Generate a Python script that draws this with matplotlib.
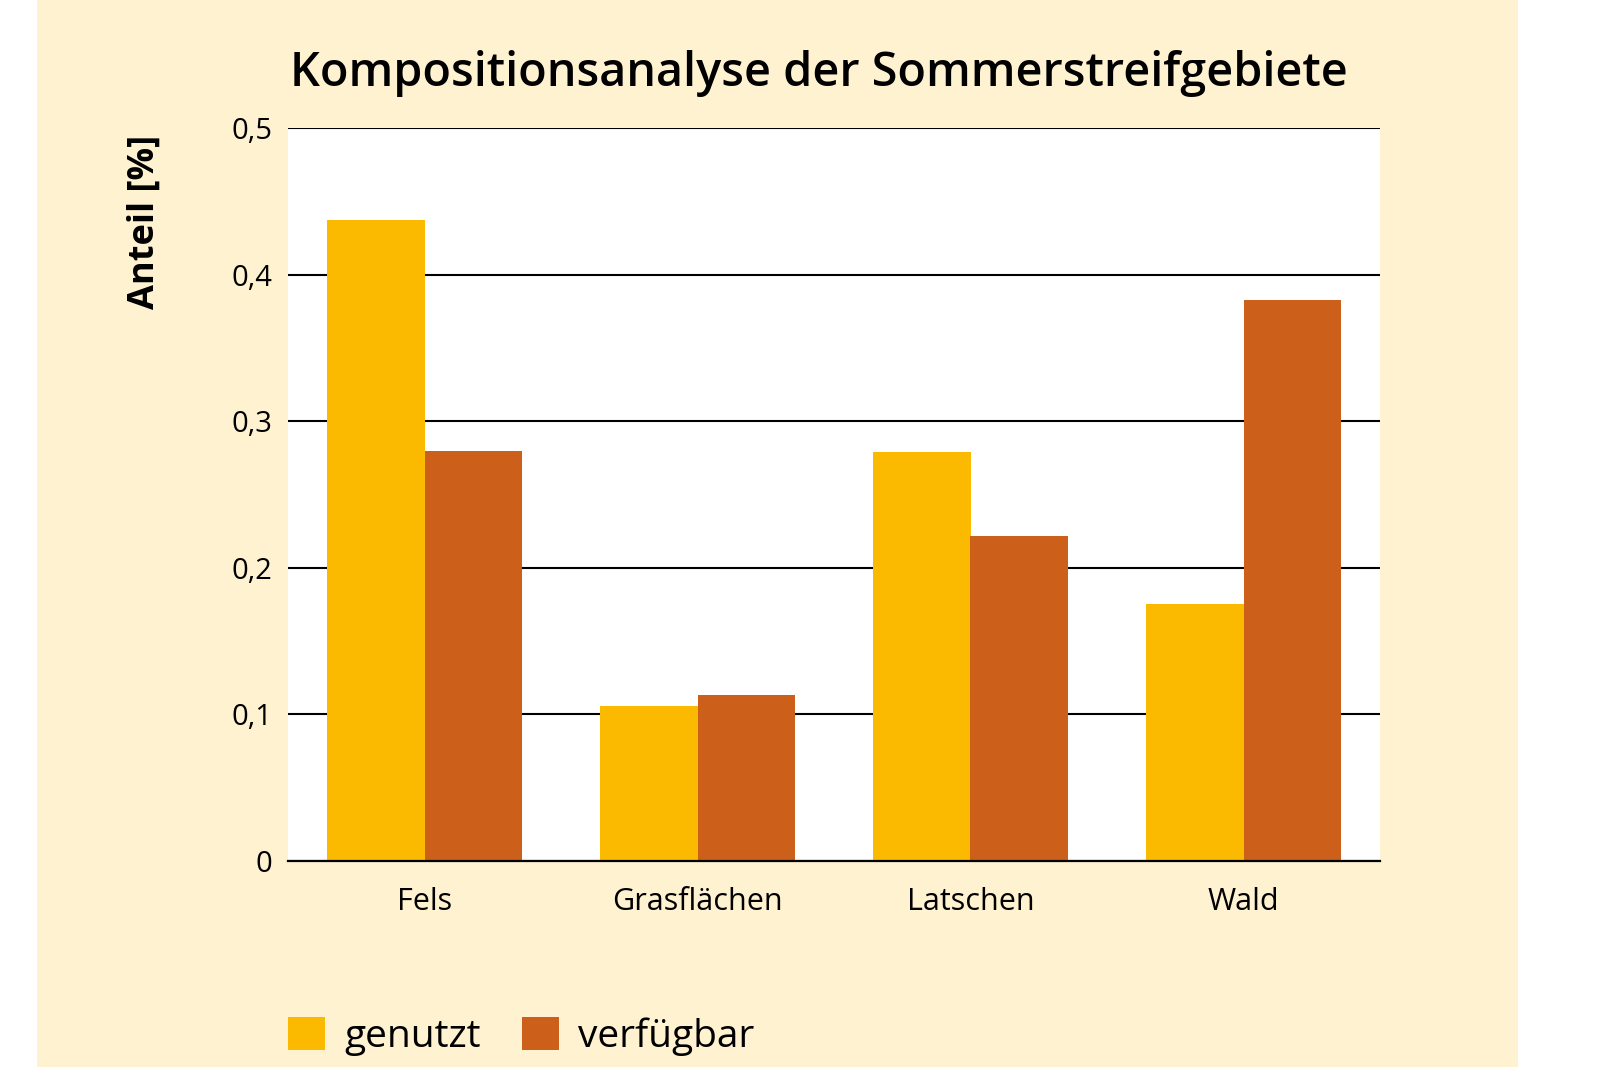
import numpy as np
import matplotlib
matplotlib.use("Agg")
import matplotlib.pyplot as plt
from matplotlib.patches import Rectangle

plt.rcParams['font.family'] = ['Open Sans', 'DejaVu Sans']

kategorien = ["Fels", "Grasflächen", "Latschen", "Wald"]
genutzt = [0.437, 0.106, 0.279, 0.175]
verfuegbar = [0.280, 0.113, 0.222, 0.383]
yticks = [0, 0.1, 0.2, 0.3, 0.4, 0.5]
ytick_labels = ["0", "0,1", "0,2", "0,3", "0,4", "0,5"]

col_gen = "#FBBA00"
col_ver = "#CC601A"
creme = "#FFF2D1"

fig = plt.figure(figsize=(16, 10.67), dpi=100)
fig.patch.set_facecolor("white")
fig.patches.append(Rectangle((37/1600, 0), 1481/1600, 1, transform=fig.transFigure,
                             facecolor=creme, edgecolor="none", zorder=-10))

ax = fig.add_axes([288/1600, 1 - 861/1067, 1092/1600, 733/1067])
ax.set_facecolor("white")

x = np.arange(len(kategorien))
w = 0.358
b1 = ax.bar(x - w/2, genutzt, w, color=col_gen, label="genutzt", zorder=3)
b2 = ax.bar(x + w/2, verfuegbar, w, color=col_ver, label="verfügbar", zorder=3)

ax.set_xlim(-0.5, 3.5)
ax.set_ylim(0, 0.5)
ax.set_yticks(yticks)
ax.set_yticklabels(ytick_labels)
ax.set_xticks(x)
ax.set_xticklabels(kategorien)
ax.yaxis.grid(True, color="black", linewidth=1.5, zorder=1)
ax.set_axisbelow(True)
for s in ["top", "right", "left"]:
    ax.spines[s].set_visible(False)
ax.spines["bottom"].set_linewidth(1.6)
ax.spines["bottom"].set_zorder(4)
ax.tick_params(axis="y", length=0, pad=11, labelsize=21)
ax.tick_params(axis="x", length=0, pad=19, labelsize=22)

fig.text(290/1600, 1 - 86/1067, "Kompositionsanalyse der Sommerstreifgebiete",
         fontsize=33.7, fontweight="semibold", ha="left", va="baseline")
fig.text(145/1600, 1 - 222/1067, "Anteil [%]", fontsize=26, fontweight="bold",
         rotation=90, ha="center", va="center")

fig.legend(handles=[b1, b2], loc="lower left", bbox_to_anchor=(288/1600, 11/1067),
           ncol=2, frameon=False, fontsize=28, handlelength=0.95, handleheight=0.95,
           handletextpad=0.5, columnspacing=1.05, borderaxespad=0, borderpad=0)

fig.savefig("out.png", dpi=100, facecolor=fig.get_facecolor())
